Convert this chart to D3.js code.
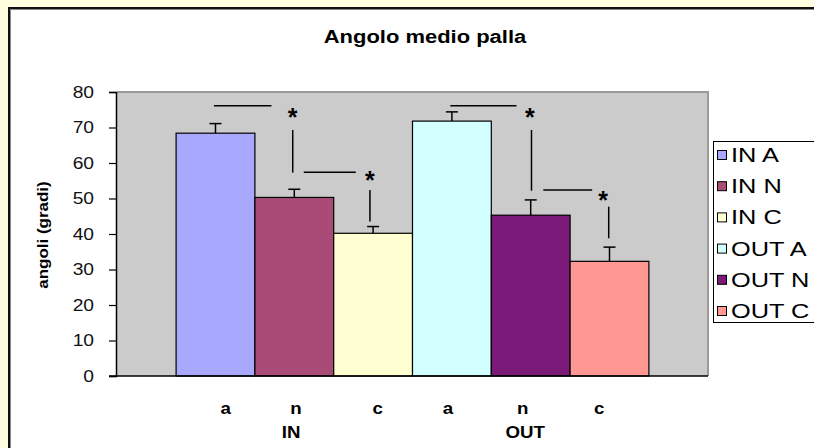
<!DOCTYPE html>
<html>
<head>
<meta charset="utf-8">
<script src="https://cdn.jsdelivr.net/npm/d3@7"></script>
<style>
  body { margin: 0; background: #FFFFE0; }
  svg { display: block; font-family: "Liberation Sans", Arial, sans-serif; }
</style>
</head>
<body>
<svg id="chart" width="814" height="448"></svg>
<script>
// Series shown as bars, in order
const series = ["IN A", "IN N", "IN C", "OUT A", "OUT N", "OUT C"];
// Mean angle per series (degrees)
const means = [68.4, 50.3, 40.2, 71.8, 45.3, 32.3];
// Error bar half-lengths (upper only)
const errors = [2.7, 2.3, 1.9, 2.6, 4.3, 4.0];
const colors = ["#A8A8FF", "#A94A77", "#FFFFD2", "#D2FFFF", "#7B1A78", "#FF9893"];
// Category labels under the bars and the group labels
const barLabels = ["a", "n", "c", "a", "n", "c"];
const groupLabels = ["IN", "OUT"];
const yTicks = [0, 10, 20, 30, 40, 50, 60, 70, 80];

// Layout (bar-unit offsets measured from the left edge of the bar block)
const barLabelPos = [0.63, 1.52, 2.56, 3.45, 4.40, 5.37];
const groupLabelPos = [1.46, 4.43];
// Significance markers: horizontal lines, vertical lines, asterisks (x in bar units, y in degrees)
const sigH = [{x1: 0.48, x2: 1.21, y: 76.1}, {x1: 1.62, x2: 2.28, y: 57.4},
              {x1: 3.48, x2: 4.32, y: 76.1}, {x1: 4.66, x2: 5.28, y: 52.4}];
const sigV = [{x: 1.48, y1: 69.3, y2: 57.3}, {x: 2.46, y1: 52.4, y2: 43.5},
              {x: 4.51, y1: 69.3, y2: 52.2}, {x: 5.49, y1: 47.7, y2: 38.8}];
const sigStar = [{x: 1.48, y: 74.1}, {x: 2.46, y: 56.3}, {x: 4.49, y: 74.1}, {x: 5.42, y: 50.7}];

const svg = d3.select("#chart");
const plot = {left: 117, right: 708, top: 92, bottom: 376};

// Widen glyphs horizontally by factor k (text keeps its anchor)
function widen(sel, k) {
  sel.each(function () {
    const w = this.getComputedTextLength();
    d3.select(this).attr("textLength", w * k).attr("lengthAdjust", "spacingAndGlyphs");
  });
}

// Outer frame
svg.append("rect").attr("x", 0).attr("y", 0).attr("width", 814).attr("height", 448).attr("fill", "#FFFFE0");
svg.append("rect").attr("x", 9).attr("y", 8).attr("width", 830).attr("height", 460)
  .attr("fill", "#fff").attr("stroke", "#111").attr("stroke-width", 2);
svg.append("path").attr("d", "M10.5,470V9.5H830").attr("fill", "none").attr("stroke", "#888").attr("stroke-width", 1);

const x = d3.scaleBand().domain(series).range([plot.left, plot.right]).paddingInner(0).paddingOuter(0.75);
const y = d3.scaleLinear().domain([0, 80]).range([plot.bottom, plot.top]);
const bw = x.bandwidth();
const u = d3.scaleLinear().domain([0, 6]).range([x(series[0]), x(series[0]) + 6 * bw]);

// Plot area
svg.append("rect").attr("x", plot.left).attr("y", plot.top)
  .attr("width", plot.right - plot.left).attr("height", plot.bottom - plot.top)
  .attr("fill", "#CBCBCB");
svg.append("path").attr("d", `M${plot.left},${plot.top}H${plot.right}V${plot.bottom}`)
  .attr("fill", "none").attr("stroke", "#9A9A9A").attr("stroke-width", 2);

// Title
svg.append("text").attr("x", 425).attr("y", 43).attr("text-anchor", "middle")
  .attr("font-size", 18).attr("font-weight", "bold").text("Angolo medio palla")
  .call(widen, 1.22);

// Y axis
const yAxis = svg.append("g").attr("transform", `translate(${plot.left - 1},0)`)
  .call(d3.axisLeft(y).tickValues(yTicks).tickSize(7).tickPadding(15));
yAxis.select(".domain").attr("stroke", "#000").attr("stroke-width", 1.5);
yAxis.selectAll(".tick line").attr("stroke", "#000").attr("stroke-width", 1.2);
yAxis.selectAll(".tick text").attr("font-size", 16).attr("fill", "#111")
  .attr("font-family", "Liberation Sans, Arial, sans-serif")
  .call(widen, 1.2);

svg.append("text").attr("transform", "translate(48,235) rotate(-90)").attr("text-anchor", "middle")
  .attr("font-size", 14.5).attr("font-weight", "bold").text("angoli (gradi)")
  .call(widen, 1.17);

// Bars
svg.append("g").selectAll("rect").data(series).join("rect")
  .attr("x", d => x(d)).attr("y", (d, i) => y(means[i]))
  .attr("width", bw).attr("height", (d, i) => y(0) - y(means[i]))
  .attr("fill", (d, i) => colors[i]).attr("stroke", "#000").attr("stroke-width", 1.2);

// X axis line
svg.append("line").attr("x1", plot.left - 8).attr("x2", plot.right).attr("y1", y(0)).attr("y2", y(0))
  .attr("stroke", "#000").attr("stroke-width", 1.5);

// Error bars
const eb = svg.append("g").attr("stroke", "#000").attr("stroke-width", 1.5);
series.forEach((s, i) => {
  const cx = x(s) + bw / 2;
  eb.append("line").attr("x1", cx).attr("x2", cx).attr("y1", y(means[i])).attr("y2", y(means[i] + errors[i]));
  eb.append("line").attr("x1", cx - 6).attr("x2", cx + 6).attr("y1", y(means[i] + errors[i])).attr("y2", y(means[i] + errors[i]));
});

// Significance markers
const sg = svg.append("g").attr("stroke", "#000").attr("stroke-width", 1.5);
sigH.forEach(d => sg.append("line").attr("x1", u(d.x1)).attr("x2", u(d.x2)).attr("y1", y(d.y)).attr("y2", y(d.y)));
sigV.forEach(d => sg.append("line").attr("x1", u(d.x)).attr("x2", u(d.x)).attr("y1", y(d.y1)).attr("y2", y(d.y2)));
svg.append("g").selectAll("text").data(sigStar).join("text")
  .attr("x", d => u(d.x)).attr("y", d => y(d.y) + 13).attr("text-anchor", "middle")
  .attr("font-size", 25).attr("font-weight", "bold").text("*");

// X labels
svg.append("g").selectAll("text").data(barLabels).join("text")
  .attr("x", (d, i) => u(barLabelPos[i])).attr("y", 414).attr("text-anchor", "middle")
  .attr("font-size", 17).attr("font-weight", "bold").text(d => d)
  .call(widen, 1.1);
svg.append("g").selectAll("text").data(groupLabels).join("text")
  .attr("x", (d, i) => u(groupLabelPos[i])).attr("y", 438).attr("text-anchor", "middle")
  .attr("font-size", 17).attr("font-weight", "bold").text(d => d)
  .call(widen, 1.1);

// Legend
const lg = svg.append("g");
lg.append("rect").attr("x", 713.5).attr("y", 141.5).attr("width", 120).attr("height", 181)
  .attr("fill", "#fff").attr("stroke", "#000").attr("stroke-width", 1);
series.forEach((s, i) => {
  const cy = 155 + i * 31.2;
  lg.append("rect").attr("x", 717.5).attr("y", cy - 4.5).attr("width", 9).attr("height", 9)
    .attr("fill", colors[i]).attr("stroke", "#000").attr("stroke-width", 1);
  lg.append("text").attr("x", 731).attr("y", cy + 7).attr("font-size", 19.5).text(s)
    .call(widen, 1.3);
});
</script>
</body>
</html>
